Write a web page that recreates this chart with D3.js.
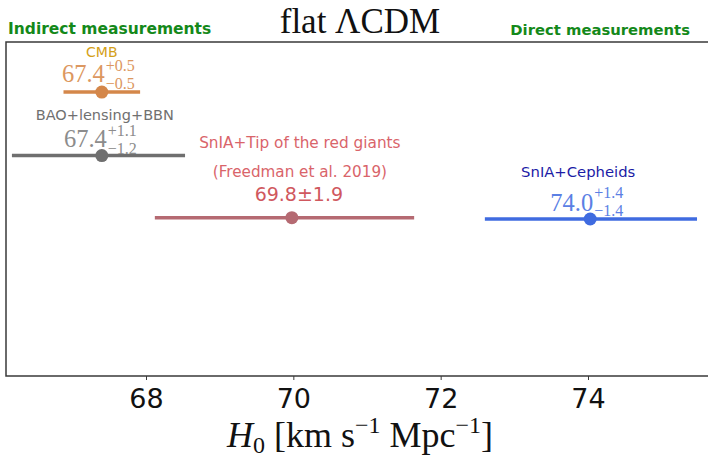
<!DOCTYPE html>
<html lang="en">
<head>
  <meta charset="UTF-8">
  <title>flat LCDM H0</title>
  <script src="https://d3js.org/d3.v7.min.js"></script>
  <style>
    html, body { margin: 0; background: #fff; }
    svg { display: block; }
    .sans { font-family: "DejaVu Sans", Verdana, sans-serif; }
    .serif { font-family: "Liberation Serif", "Times New Roman", serif; }
  </style>
</head>
<body>
  <svg width="708" height="458"></svg>
  <script>
    const names   = ["CMB", "BAO+lensing+BBN", "SnIA+Tip of the red giants", "SnIA+Cepheids"];
    const centers = [67.4, 67.4, 69.98, 74.03];
    const lows    = [66.88, 66.18, 68.12, 72.6];
    const highs   = [67.92, 68.53, 71.64, 75.48];
    const rows    = [4.25, 3.3, 2.37, 2.35];
    const valMain = ["67.4", "67.4", "69.8±1.9", "74.0"];
    const valPlus = ["+0.5", "+1.1", null, "+1.4"];
    const valMinus = ["\u22120.5", "\u22121.2", null, "\u22121.4"];
    const ticks = [68, 70, 72, 74];

    // per-row styling
    const lineColor  = ["#d4874a", "#6f6f6f", "#b56a72", "#3f6be0"];
    const nameColor  = ["#d4a017", "#707070", "#d9646a", "#1c1ca6"];
    const valueColor = ["#dc9760", "#8c8c8c", "#d0585e", "#5b80e4"];
    const nameSize   = [14, 14.5, 15.3, 14.8];

    const svg = d3.select("svg");
    const frameL = 6, frameR = 720, frameT = 42, frameB = 376;

    const x = d3.scaleLinear().domain([68, 74]).range([146, 588]);
    const y = d3.scaleLinear().domain([0, 5]).range([frameB, frameT]);

    // frame (right side runs off the picture)
    svg.append("path")
      .attr("d", `M${frameR},${frameT}H${frameL}V${frameB}H${frameR}`)
      .attr("fill", "none")
      .attr("stroke", "#3a3a3a")
      .attr("stroke-width", 1.5);

    const axis = svg.append("g")
      .attr("transform", `translate(0,${frameB})`)
      .call(d3.axisBottom(x).tickValues(ticks).tickSize(4).tickPadding(9).tickFormat(d3.format("d")));
    axis.select(".domain").remove();
    axis.selectAll(".tick line").attr("stroke", "#3a3a3a");
    axis.selectAll(".tick text")
      .attr("class", "sans")
      .attr("font-size", 27)
      .attr("fill", "#111");

    // error bars
    const idx = d3.range(names.length);
    svg.append("g").selectAll("line")
      .data(idx).enter().append("line")
      .attr("x1", i => x(lows[i]))
      .attr("x2", i => x(highs[i]))
      .attr("y1", i => y(rows[i]))
      .attr("y2", i => y(rows[i]))
      .attr("stroke", i => lineColor[i])
      .attr("stroke-width", 3.5);

    svg.append("g").selectAll("circle")
      .data(idx).enter().append("circle")
      .attr("cx", i => x(centers[i]))
      .attr("cy", i => y(rows[i]))
      .attr("r", 6.5)
      .attr("fill", i => lineColor[i]);

    // names
    const nameDx = [0, 3, 8, -12];
    const nameDy = [-35, -36, -70, -42];
    svg.append("g").selectAll("text")
      .data(idx).enter().append("text")
      .attr("class", "sans")
      .attr("x", i => x(centers[i]) + nameDx[i])
      .attr("y", i => y(rows[i]) + nameDy[i])
      .attr("text-anchor", "middle")
      .attr("font-size", i => nameSize[i])
      .attr("fill", i => nameColor[i])
      .text(i => names[i]);

    // second line for TRGB
    svg.append("text")
      .attr("class", "sans")
      .attr("x", x(centers[2]) + 8)
      .attr("y", y(rows[2]) - 41)
      .attr("text-anchor", "middle")
      .attr("font-size", 15.2)
      .attr("fill", nameColor[2])
      .text("(Freedman et al. 2019)");

    // values: main number with stacked upper / lower errors
    const valDx = [3, 5, 7, 3];
    const valDy = [-10, -9, -17, -8];
    const supDy = [-11, -11, 0, -13];
    const subDy = [7, 7, 0, 5];
    idx.forEach(i => {
      const cx = x(centers[i]) + valDx[i], cy = y(rows[i]) + valDy[i];
      if (valPlus[i] === null) {
        svg.append("text")
          .attr("class", "sans")
          .attr("x", cx).attr("y", cy)
          .attr("text-anchor", "middle")
          .attr("font-size", 19)
          .attr("fill", valueColor[i])
          .text(valMain[i]);
        return;
      }
      svg.append("text")
        .attr("class", "serif")
        .attr("x", cx).attr("y", cy)
        .attr("text-anchor", "end")
        .attr("font-size", 24.5)
        .attr("fill", valueColor[i])
        .text(valMain[i]);
      svg.append("text")
        .attr("class", "serif")
        .attr("x", cx + 1).attr("y", cy + supDy[i])
        .attr("font-size", 16)
        .attr("fill", valueColor[i])
        .text(valPlus[i]);
      svg.append("text")
        .attr("class", "serif")
        .attr("x", cx + 1).attr("y", cy + subDy[i])
        .attr("font-size", 16)
        .attr("fill", valueColor[i])
        .text(valMinus[i]);
    });

    // headings
    svg.append("text")
      .attr("class", "serif")
      .attr("x", 360).attr("y", 33)
      .attr("text-anchor", "middle")
      .attr("font-size", 35)
      .attr("fill", "#111")
      .text("flat \u039BCDM");

    svg.append("text")
      .attr("class", "sans")
      .attr("x", 8).attr("y", 34)
      .attr("font-size", 15.5)
      .attr("font-weight", "bold")
      .attr("fill", "#14891a")
      .text("Indirect measurements");

    svg.append("text")
      .attr("class", "sans")
      .attr("x", 690).attr("y", 35)
      .attr("text-anchor", "end")
      .attr("font-size", 14.8)
      .attr("font-weight", "bold")
      .attr("fill", "#14891a")
      .text("Direct measurements");

    // x label
    const xl = svg.append("text")
      .attr("class", "serif")
      .attr("x", 360).attr("y", 447)
      .attr("text-anchor", "middle")
      .attr("font-size", 36)
      .attr("fill", "#111");
    xl.append("tspan").attr("font-style", "italic").text("H");
    xl.append("tspan").attr("font-size", 24).attr("dy", 6).text("0");
    xl.append("tspan").attr("dy", -6).text(" [km s");
    xl.append("tspan").attr("font-size", 24).attr("dy", -14).text("\u22121");
    xl.append("tspan").attr("dy", 14).text(" Mpc");
    xl.append("tspan").attr("font-size", 24).attr("dy", -14).text("\u22121");
    xl.append("tspan").attr("dy", 14).text("]");
  </script>
</body>
</html>
